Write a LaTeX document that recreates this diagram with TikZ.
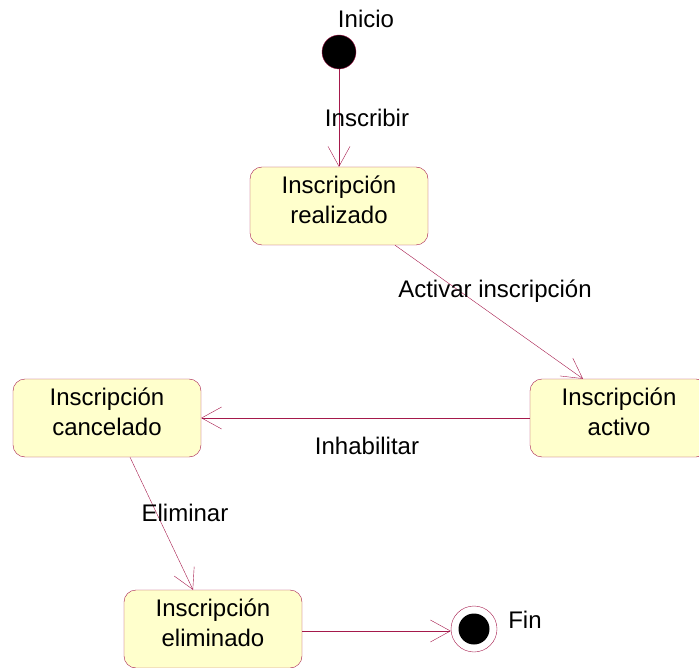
\documentclass[tikz,border=0pt]{standalone}
\usepackage{fontspec}
\setmainfont{Liberation Sans}
\usetikzlibrary{arrows.meta}

\definecolor{umlline}{RGB}{165,25,75}
\definecolor{umlfill}{RGB}{255,255,204}

% dos renglones, algo por encima del centro de la caja
\newcommand{\dosrenglones}[2]{#1\\#2\\[-18pt]\mbox{}}

\tikzset{
  estado/.style={draw = umlline, fill = umlfill, rounded corners = 12pt, minimum width = 178pt, minimum height = 78pt, align = center, inner sep = 2pt},
  trans/.style={draw = umlline, -{Straight Barb[length = 20pt, width = 22pt]}},
  etiqueta/.style={inner sep = 0pt, align = center}
}

\begin{document}
\begin{tikzpicture}[x = 1pt, y = -1pt, font = \fontsize{24}{30}\selectfont]

  \useasboundingbox (0, 0) rectangle (699, 668);

  % inicio y fin
  \node[circle, fill = black, draw = umlline, minimum size = 34pt, inner sep = 0pt] (inicio) at (339, 52) {};
  \node[etiqueta] (lblinicio) at (366, 19) {Inicio};

  \node[circle, draw = umlline, fill = white, minimum size = 46pt, inner sep = 0pt] (fin) at (474, 629) {};
  \node[circle, fill = black, minimum size = 31pt, inner sep = 0pt] (finint) at (474, 629) {};
  \node[etiqueta] (lblfin) at (525, 620) {Fin};

  % estados
  \node[estado] (realizado) at (339, 206) {\dosrenglones{Inscripción}{realizado}};
  \node[estado] (activo) at (619, 418) {\dosrenglones{Inscripción}{activo}};
  \node[estado, minimum width = 188pt] (cancelado) at (107, 418) {\dosrenglones{Inscripción}{cancelado}};
  \node[estado] (eliminado) at (213, 629) {\dosrenglones{Inscripción}{eliminado}};

  % transiciones
  \draw[trans] (inicio) -- (realizado);
  \node[etiqueta] (lblinscribir) at (367, 118) {Inscribir};

  \draw[trans] ([xshift = 56pt]realizado.south) -- ([xshift = -36pt]activo.north);
  \node[etiqueta] (lblactivar) at (495, 291) {Activar inscripción};

  \draw[trans] (activo.west) -- (cancelado.east);
  \node[etiqueta] (lblinhabilitar) at (367, 446) {Inhabilitar};

  \draw[trans] ([xshift = 23pt]cancelado.south) -- ([xshift = -20pt]eliminado.north);
  \node[etiqueta] (lbleliminar) at (185, 513) {Eliminar};

  \draw[trans] ([yshift = -2pt]eliminado.east) -- ([yshift = -2pt]fin.west);

\end{tikzpicture}
\end{document}
